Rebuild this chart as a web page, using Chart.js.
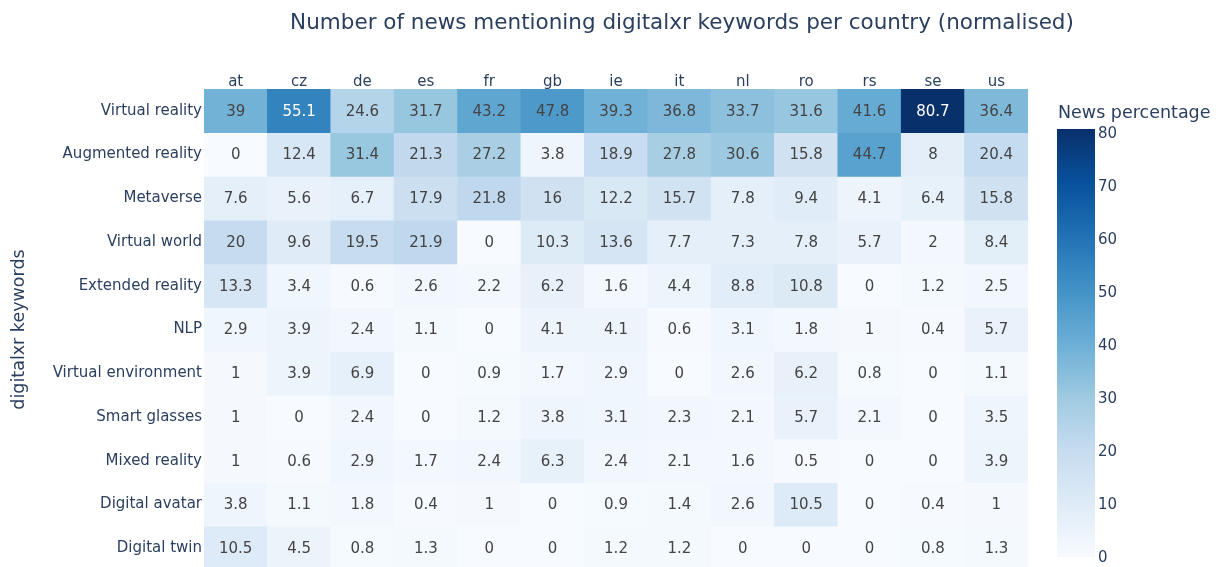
<!DOCTYPE html>
<html>
<head>
<meta charset="utf-8">
<script src="https://cdn.jsdelivr.net/npm/chart.js@4"></script>
<style>
  html, body { margin: 0; padding: 0; background: #fff; overflow: hidden; }
  #wrap { width: 1222px; height: 571px; position: relative; }
</style>
</head>
<body>
<div id="wrap"><canvas id="heatmap"></canvas></div>
<script>
// Dados do heatmap: palavras-chave x países
const paises = ['at', 'cz', 'de', 'es', 'fr', 'gb', 'ie', 'it', 'nl', 'ro', 'rs', 'se', 'us'];
const palavras = ['Virtual reality', 'Augmented reality', 'Metaverse', 'Virtual world', 'Extended reality',
  'NLP', 'Virtual environment', 'Smart glasses', 'Mixed reality', 'Digital avatar', 'Digital twin'];

const virtualReality     = [39, 55.1, 24.6, 31.7, 43.2, 47.8, 39.3, 36.8, 33.7, 31.6, 41.6, 80.7, 36.4];
const augmentedReality   = [0, 12.4, 31.4, 21.3, 27.2, 3.8, 18.9, 27.8, 30.6, 15.8, 44.7, 8, 20.4];
const metaverse          = [7.6, 5.6, 6.7, 17.9, 21.8, 16, 12.2, 15.7, 7.8, 9.4, 4.1, 6.4, 15.8];
const virtualWorld       = [20, 9.6, 19.5, 21.9, 0, 10.3, 13.6, 7.7, 7.3, 7.8, 5.7, 2, 8.4];
const extendedReality    = [13.3, 3.4, 0.6, 2.6, 2.2, 6.2, 1.6, 4.4, 8.8, 10.8, 0, 1.2, 2.5];
const nlp                = [2.9, 3.9, 2.4, 1.1, 0, 4.1, 4.1, 0.6, 3.1, 1.8, 1, 0.4, 5.7];
const virtualEnvironment = [1, 3.9, 6.9, 0, 0.9, 1.7, 2.9, 0, 2.6, 6.2, 0.8, 0, 1.1];
const smartGlasses       = [1, 0, 2.4, 0, 1.2, 3.8, 3.1, 2.3, 2.1, 5.7, 2.1, 0, 3.5];
const mixedReality       = [1, 0.6, 2.9, 1.7, 2.4, 6.3, 2.4, 2.1, 1.6, 0.5, 0, 0, 3.9];
const digitalAvatar      = [3.8, 1.1, 1.8, 0.4, 1, 0, 0.9, 1.4, 2.6, 10.5, 0, 0.4, 1];
const digitalTwin        = [10.5, 4.5, 0.8, 1.3, 0, 0, 1.2, 1.2, 0, 0, 0, 0.8, 1.3];

const valores = [virtualReality, augmentedReality, metaverse, virtualWorld, extendedReality,
  nlp, virtualEnvironment, smartGlasses, mixedReality, digitalAvatar, digitalTwin];

const ticksBarra = [0, 10, 20, 30, 40, 50, 60, 70, 80];

const titulo = 'Number of news mentioning digitalxr keywords per country (normalised)';
const tituloEixoY = 'digitalxr keywords';
const tituloBarra = 'News percentage';

// Escala "Blues"
const blues = [[247, 251, 255], [222, 235, 247], [198, 219, 239], [158, 202, 225], [107, 174, 214],
  [66, 146, 198], [33, 113, 181], [8, 81, 156], [8, 48, 107]];

const vMin = 0;
const vMax = Math.max(...valores.flat());

function corRGB(v) {
  let t = (v - vMin) / (vMax - vMin);
  t = Math.max(0, Math.min(1, t)) * (blues.length - 1);
  const i = Math.min(Math.floor(t), blues.length - 2);
  const f = t - i;
  const a = blues[i], b = blues[i + 1];
  return [0, 1, 2].map(k => Math.round(a[k] + (b[k] - a[k]) * f));
}
function cor(v) {
  const c = corRGB(v);
  return `rgb(${c[0]},${c[1]},${c[2]})`;
}
function corTexto(v) {
  const c = corRGB(v);
  const brilho = (c[0] * 299 + c[1] * 587 + c[2] * 114) / 1000;
  return brilho >= 128 ? '#444444' : '#ffffff';
}

const FONTE = '"DejaVu Sans", Verdana, sans-serif';
const AZUL = '#2a3f5f';

// Cada linha do heatmap vira um dataset de barras flutuantes
const datasets = valores.map((linha, r) => ({
  label: palavras[r],
  data: linha.map(() => [r, r + 1]),
  valores: linha,
  backgroundColor: linha.map(v => cor(v)),
  borderWidth: 0,
  grouped: false,
  barPercentage: 1,
  categoryPercentage: 1
}));

// Plugin para escrever os valores nas células
const textoCelulas = {
  id: 'textoCelulas',
  afterDatasetsDraw(chart) {
    const ctx = chart.ctx;
    ctx.save();
    ctx.font = `15px ${FONTE}`;
    ctx.textAlign = 'center';
    ctx.textBaseline = 'middle';
    chart.data.datasets.forEach((ds, r) => {
      chart.getDatasetMeta(r).data.forEach((el, c) => {
        const v = ds.valores[c];
        ctx.fillStyle = corTexto(v);
        ctx.fillText(String(v), el.x, (el.y + el.base) / 2 + 1);
      });
    });
    ctx.restore();
  }
};

// Plugin para título, barra de cores e seus textos
const extras = {
  id: 'extras',
  afterDraw(chart) {
    const ctx = chart.ctx;
    ctx.save();
    // título
    ctx.fillStyle = AZUL;
    ctx.font = `21.5px ${FONTE}`;
    ctx.textAlign = 'center';
    ctx.textBaseline = 'middle';
    ctx.fillText(titulo, 682, 23);

    // barra de cores
    const x0 = 1057, x1 = 1095, yTop = 129, yBot = 557;
    const grad = ctx.createLinearGradient(0, yBot, 0, yTop);
    blues.forEach((c, i) => grad.addColorStop(i / (blues.length - 1), `rgb(${c[0]},${c[1]},${c[2]})`));
    ctx.fillStyle = grad;
    ctx.fillRect(x0, yTop, x1 - x0, yBot - yTop);

    ctx.fillStyle = AZUL;
    ctx.font = `15px ${FONTE}`;
    ctx.textAlign = 'left';
    ticksBarra.forEach(t => {
      const y = yBot - (t - vMin) / (vMax - vMin) * (yBot - yTop);
      ctx.fillText(String(t), x1 + 3, y + 1);
    });

    ctx.font = `17.5px ${FONTE}`;
    ctx.fillText(tituloBarra, 1058, 113);
    ctx.restore();
  }
};

const ctx = document.getElementById('heatmap').getContext('2d');
window.graficoHeatmap = new Chart(ctx, {
  type: 'bar',
  data: { labels: paises, datasets: datasets },
  options: {
    responsive: true,
    maintainAspectRatio: false,
    animation: false,
    devicePixelRatio: 1,
    layout: { padding: { left: 0, top: 60, right: 194, bottom: 1 } },
    plugins: {
      legend: { display: false },
      tooltip: { enabled: false },
      title: { display: false }
    },
    scales: {
      x: {
        type: 'category',
        position: 'top',
        grid: { display: false, drawTicks: false },
        border: { display: false },
        ticks: { color: AZUL, font: { family: FONTE, size: 15 }, padding: -2, maxRotation: 0 },
        afterFit(scale) {
          scale.height = 29;
          scale.paddingLeft = 0;
          scale.paddingRight = 0;
        }
      },
      y: {
        type: 'linear',
        min: 0,
        max: palavras.length,
        reverse: true,
        grid: { display: false, drawTicks: false },
        border: { display: false },
        afterBuildTicks(scale) {
          scale.ticks = palavras.map((_, i) => ({ value: i + 0.5 }));
        },
        ticks: {
          color: AZUL,
          font: { family: FONTE, size: 15 },
          padding: 2,
          autoSkip: false,
          callback: (value) => palavras[Math.floor(value)]
        },
        title: {
          display: true,
          text: tituloEixoY,
          color: AZUL,
          font: { family: FONTE, size: 17.5 },
          padding: { top: 9, bottom: 0 }
        },
        afterFit(scale) {
          scale.width = 204;
          scale.paddingTop = 0;
          scale.paddingBottom = 0;
        }
      }
    }
  },
  plugins: [textoCelulas, extras]
});
</script>
</body>
</html>
